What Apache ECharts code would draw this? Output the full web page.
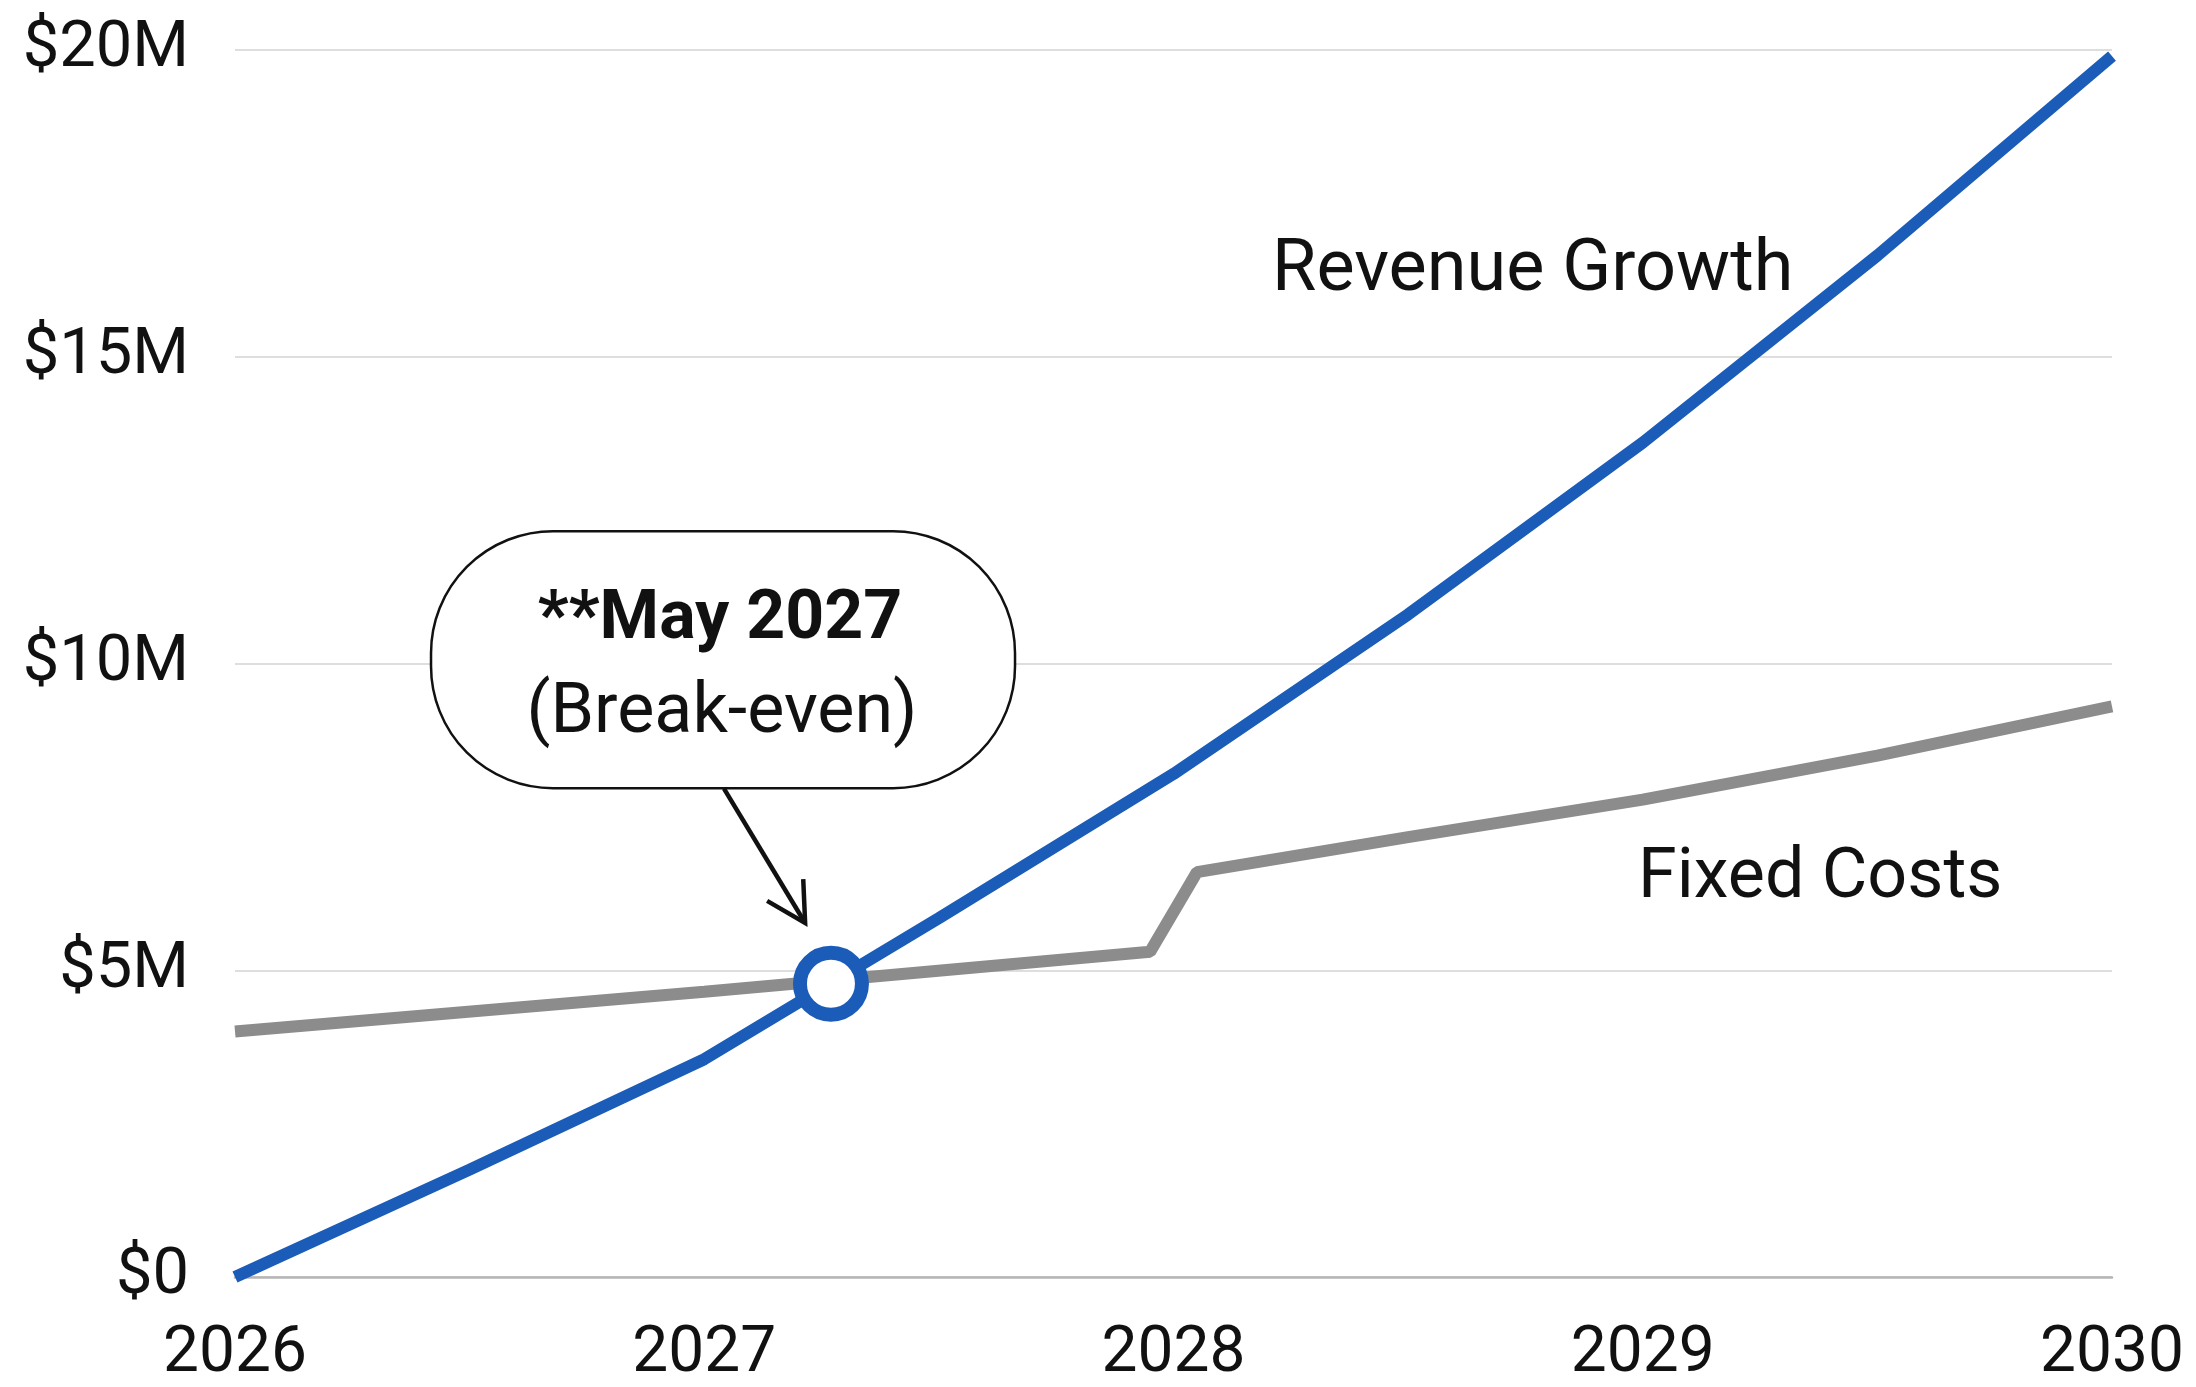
<!DOCTYPE html>
<html>
<head>
<meta charset="utf-8">
<script src="https://cdn.jsdelivr.net/npm/echarts@6/dist/echarts.min.js"></script>
<style>
html,body{margin:0;padding:0;background:#fff;}
#chart{width:2196px;height:1387px;}
</style>
</head>
<body>
<div id="chart"></div>
<script>
// ---- data (years as fractional values, amounts in $M) ----
const yearTicks = [2026, 2027, 2028, 2029, 2030];
const revenueT = [2026, 2026.5, 2027, 2027.5, 2028, 2028.5, 2029, 2029.5, 2030];
const revenueM = [0, 1.75, 3.55, 5.85, 8.2, 10.8, 13.6, 16.65, 19.9];
const costT = [2026, 2027, 2027.95, 2028.05, 2028.5, 2029, 2029.5, 2030];
const costM = [4.0, 4.65, 5.3, 6.6, 7.17, 7.78, 8.5, 9.3];
const breakEven = [2027.27, 4.78];
const seriesNames = ['Revenue Growth', 'Fixed Costs'];
const calloutTitle = '**May 2027';
const calloutSub = '(Break-even)';

const FONT = 'Roboto, "Noto Sans", sans-serif';
const BLUE = '#1a5cb8';
const GRAY = '#8c8c8c';

const chart = echarts.init(document.getElementById('chart'));
const zip = (a, b) => a.map((v, i) => [v, b[i]]);

chart.setOption({
  animation: false,
  backgroundColor: '#fff',
  grid: { left: 235, right: 84, top: 50, bottom: 99, containLabel: false },
  xAxis: {
    type: 'value', min: 2026, max: 2030, interval: 1,
    axisLine: { show: true, lineStyle: { color: '#b5b5b5', width: 2.5 } },
    axisTick: { show: false },
    splitLine: { show: false },
    axisLabel: { fontFamily: FONT, fontSize: 64, color: '#111', margin: 46,
      formatter: v => String(v) }
  },
  yAxis: {
    type: 'value', min: 0, max: 20, interval: 5,
    axisLine: { show: false }, axisTick: { show: false },
    splitLine: { lineStyle: { color: '#dedede', width: 2 } },
    axisLabel: { fontFamily: FONT, fontSize: 65, color: '#111', margin: 46,
      formatter: v => v === 0 ? '$0' : '$' + v + 'M' }
  },
  series: [
    { name: seriesNames[1], type: 'line', data: zip(costT, costM), showSymbol: false,
      lineStyle: { color: GRAY, width: 12 }, z: 2 },
    { name: seriesNames[0], type: 'line', data: zip(revenueT, revenueM), showSymbol: false,
      lineStyle: { color: BLUE, width: 12 }, z: 3 },
    { name: 'Break-even', type: 'scatter', data: [breakEven], symbol: 'circle', symbolSize: 62,
      itemStyle: { color: '#fff', borderColor: BLUE, borderWidth: 14, opacity: 1 }, z: 5 }
  ]
});

const px = p => chart.convertToPixel({ gridIndex: 0 }, p);
const rg = px([2028.21, 16.5]);
const fc = px([2028.99, 6.59]);
const box = px([2027.04, 10.07]);
const a0 = px([2027.042, 7.96]);
const a1 = px([2027.215, 5.77]);
const dx = a1[0] - a0[0], dy = a1[1] - a0[1];
const L = Math.hypot(dx, dy), ux = dx / L, uy = dy / L;
const head = 44, spread = 0.5;
const rot = (x, y, ang) => [x * Math.cos(ang) - y * Math.sin(ang), x * Math.sin(ang) + y * Math.cos(ang)];
const h1 = rot(-ux * head, -uy * head, spread), h2 = rot(-ux * head, -uy * head, -spread);

chart.setOption({
  graphic: [
    { type: 'text', left: rg[0], top: rg[1] - 29, z: 10,
      style: { text: seriesNames[0], font: '400 72px ' + FONT, fill: '#111' } },
    { type: 'text', left: fc[0], top: fc[1] - 28, z: 10,
      style: { text: seriesNames[1], font: '400 70px ' + FONT, fill: '#111' } },
    { type: 'rect', z: 10, shape: { x: box[0] - 292, y: box[1] - 128, width: 584, height: 257, r: 122 },
      style: { fill: '#fff', stroke: '#111', lineWidth: 2.5 } },
    { type: 'text', z: 11, x: box[0] - 3, y: box[1] - 38,
      style: { text: calloutTitle, font: '700 68px ' + FONT, fill: '#111', align: 'center', verticalAlign: 'middle' } },
    { type: 'text', z: 11, x: box[0] - 1, y: box[1] + 55,
      style: { text: calloutSub, font: '400 70px ' + FONT, fill: '#111', align: 'center', verticalAlign: 'middle' } },
    { type: 'line', z: 10, shape: { x1: a0[0], y1: a0[1], x2: a1[0], y2: a1[1] },
      style: { stroke: '#111', lineWidth: 4.5 } },
    { type: 'polyline', z: 10,
      shape: { points: [[a1[0] + h1[0], a1[1] + h1[1]], [a1[0], a1[1]], [a1[0] + h2[0], a1[1] + h2[1]]] },
      style: { stroke: '#111', lineWidth: 4.5, fill: null } }
  ]
});
</script>
</body>
</html>
